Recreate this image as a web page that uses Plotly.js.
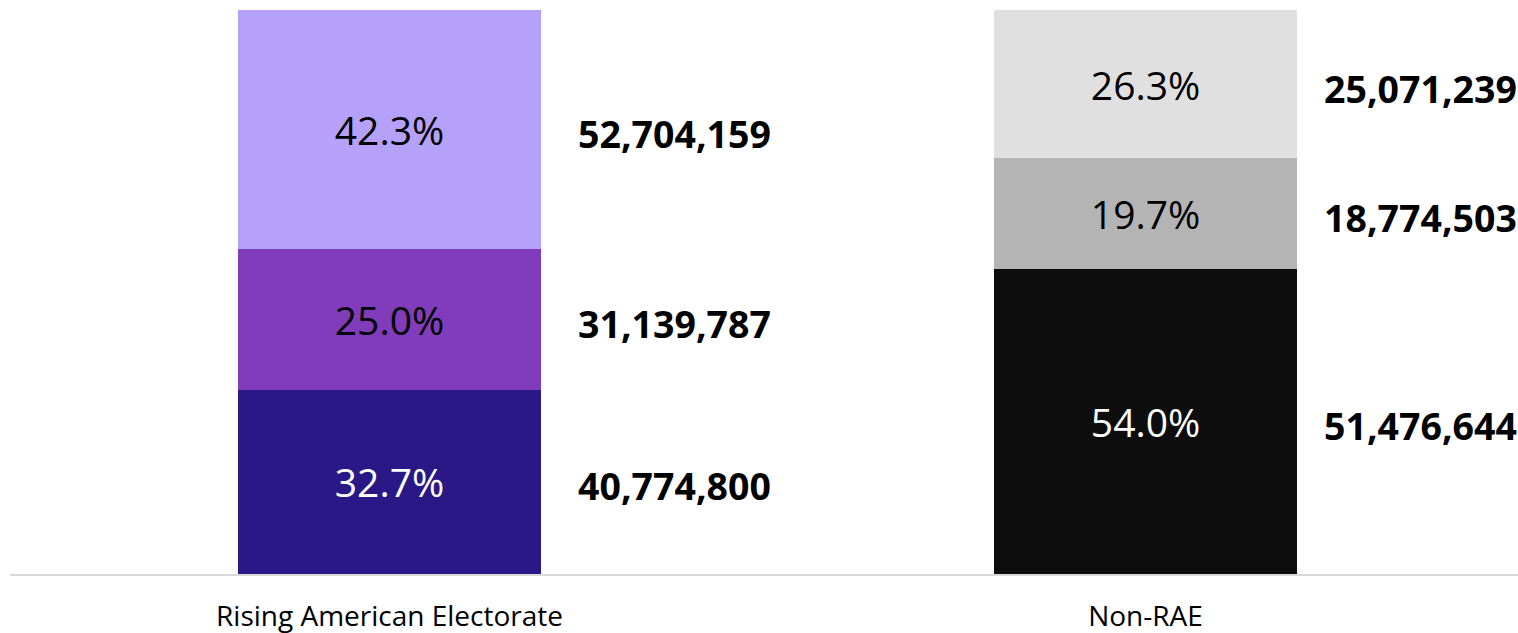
<!DOCTYPE html>
<html>
<head>
<meta charset="utf-8">
<script src="https://cdn.plot.ly/plotly-3.0.1.min.js"></script>
<style>html,body{margin:0;padding:0;background:#fff;}#chart{width:1518px;height:633px;}</style>
</head>
<body>
<div id="chart"></div>
<script>
// Data
const categories = ["Rising American Electorate", "Non-RAE"];
// segments from bottom to top
const bottomPct = [32.7, 54.0];
const middlePct = [25.0, 19.7];
const topPct = [42.3, 26.3];
const bottomCount = ["40,774,800", "51,476,644"];
const middleCount = ["31,139,787", "18,774,503"];
const topCount = ["52,704,159", "25,071,239"];

const bottomColors = ["#2A1886", "#0D0D0D"];
const middleColors = ["#803CBA", "#B4B4B4"];
const topColors = ["#B5A0FA", "#E0E0E0"];

const xs = categories.map((c, i) => i);
const pctText = arr => arr.map(v => v.toFixed(1) + "%");

const segs = [
  {y: bottomPct, colors: bottomColors, txtColor: ["#ffffff", "#ffffff"], counts: bottomCount},
  {y: middlePct, colors: middleColors, txtColor: ["#000000", "#000000"], counts: middleCount},
  {y: topPct, colors: topColors, txtColor: ["#000000", "#000000"], counts: topCount}
];

const traces = segs.map(s => ({
  type: "bar",
  x: xs,
  y: s.y,
  width: 0.4,
  marker: {color: s.colors, line: {width: 0}},
  text: pctText(s.y),
  textposition: "inside",
  insidetextanchor: "middle",
  textangle: 0,
  insidetextfont: {family: "Open Sans, sans-serif", size: 39, color: s.txtColor},
  hoverinfo: "skip",
  showlegend: false
}));

const labelOffset = [0.247, 0.2335];
const annotations = [];
xs.forEach(i => {
  let base = 0;
  segs.forEach(s => {
    const mid = base + s.y[i] / 2;
    annotations.push({
      x: i + labelOffset[i], y: mid, xref: "x", yref: "y",
      text: "<b>" + s.counts[i] + "</b>",
      showarrow: false, xanchor: "left", yanchor: "middle", yshift: -4,
      font: {family: "Open Sans, sans-serif", size: 37.5, color: "#000000"}
    });
    base += s.y[i];
  });
});

const layout = {
  width: 1518, height: 633,
  margin: {l: 10, r: 0, t: 10, b: 59},
  paper_bgcolor: "#ffffff", plot_bgcolor: "#ffffff",
  barmode: "stack",
  bargap: 0,
  xaxis: {
    type: "linear",
    range: [-0.502, 1.4927],
    tickvals: xs, ticktext: categories,
    showgrid: false, zeroline: false,
    showline: true, linecolor: "#D9D9D9", linewidth: 2,
    ticks: "", ticklabelstandoff: 16,
    tickfont: {family: "Open Sans, sans-serif", size: 28, color: "#000000"},
    fixedrange: true
  },
  yaxis: {
    range: [0, 100], visible: false, showgrid: false, zeroline: false,
    fixedrange: true
  },
  annotations: annotations,
  showlegend: false
};

Plotly.newPlot("chart", traces, layout, {displayModeBar: false, staticPlot: true});
</script>
</body>
</html>
